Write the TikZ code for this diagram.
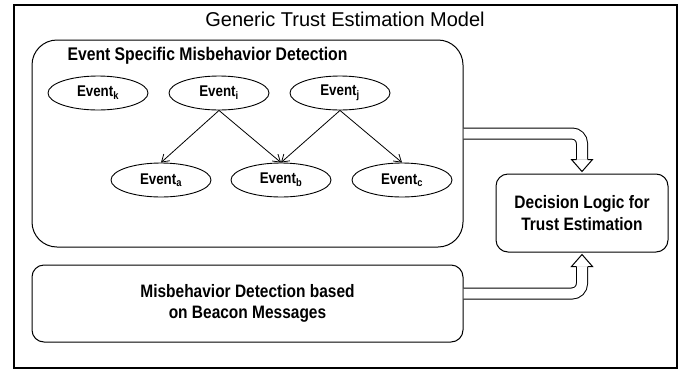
\documentclass[tikz,border=0pt]{standalone}
\usepackage{fontspec}
\setmainfont{Liberation Sans}
\newfontfamily\narrowsf{Liberation Sans}[FakeStretch=0.86]
\usetikzlibrary{shapes.geometric,arrows.meta,calc}

\begin{document}
\begin{tikzpicture}
[x=1pt,y=-1pt,%
  event/.style={shape=ellipse,draw,line width=0.9pt,minimum width=100pt,minimum height=34pt,inner sep=0pt,%
    font=\narrowsf\bfseries\fontsize{15.5}{18}\selectfont},%
  block/.style={draw,line width=1pt,rounded corners=12pt,align=center,%
    font=\narrowsf\bfseries\fontsize{18}{21.5}\selectfont},%
  fat/.style={draw,line width=1pt,double=white,double distance=10pt,rounded corners=10pt},%
  head/.style={draw,fill=white,line width=1pt,line join=miter}]
\useasboundingbox (0,0) rectangle (682,370);
\node[draw,line width=2.5pt,minimum width=663pt,minimum height=363pt,inner sep=0pt] (frame) at (345.5,186.5) {};
\node[font=\fontsize{20}{24}\selectfont] (title) at (345,19) {Generic Trust Estimation Model};
%%
\node[block,rounded corners=25pt,minimum width=431pt,minimum height=207pt] (specific) at (247.5,143.5) {};
\node[anchor=west,font=\narrowsf\bfseries\fontsize{18.3}{22}\selectfont] (specifictitle) at (64,56)
  {Event Specific Misbehavior Detection};
%%
\node[event] (k) at (98,93) {Event\textsubscript{k}};
\node[event] (i) at (219,93) {Event\textsubscript{i}};
\node[event] (j) at (340,93) {Event\textsubscript{j}};
\node[event] (a) at (161,180) {Event\textsubscript{a}};
\node[event] (b) at (281,180) {Event\textsubscript{b}};
\node[event] (c) at (402,180) {Event\textsubscript{c}};
%%
\node[block,minimum width=172pt,minimum height=78pt] (decision) at (582,213)
  {Decision Logic for\\Trust Estimation};
\node[block,minimum width=431pt,minimum height=77pt] (beacon) at (247.5,303.5)
  {Misbehavior Detection based\\on Beacon Messages};
\path
\foreach \startNode/\endNode in {i/a, i/b, j/b, j/c}
{
  (\startNode.south) edge[-{Straight Barb[length=7pt,width=9pt]},line width=0.8pt] (\endNode.north)
};
%% fat arrows into the decision logic
\coordinate (out1) at (specific.east |- 0,133.5);
\coordinate (base1) at ($(decision.north)+(0,-14)$);
\coordinate (tip1) at ($(decision.north)+(0,-2)$);
\draw[fat] (out1) -| (base1);
\draw[head] ($(base1)+(-5.5,0)$) -- ($(base1)+(-10.5,0)$) -- (tip1) -- ($(base1)+(10.5,0)$) -- ($(base1)+(5.5,0)$);
%%
\coordinate (out2) at (beacon.east |- 0,293.5);
\coordinate (base2) at ($(decision.south)+(0,14)$);
\coordinate (tip2) at ($(decision.south)+(0,2)$);
\draw[fat] (out2) -| (base2);
\draw[head] ($(base2)+(-5.5,0)$) -- ($(base2)+(-10.5,0)$) -- (tip2) -- ($(base2)+(10.5,0)$) -- ($(base2)+(5.5,0)$);
\end{tikzpicture}
\end{document}
